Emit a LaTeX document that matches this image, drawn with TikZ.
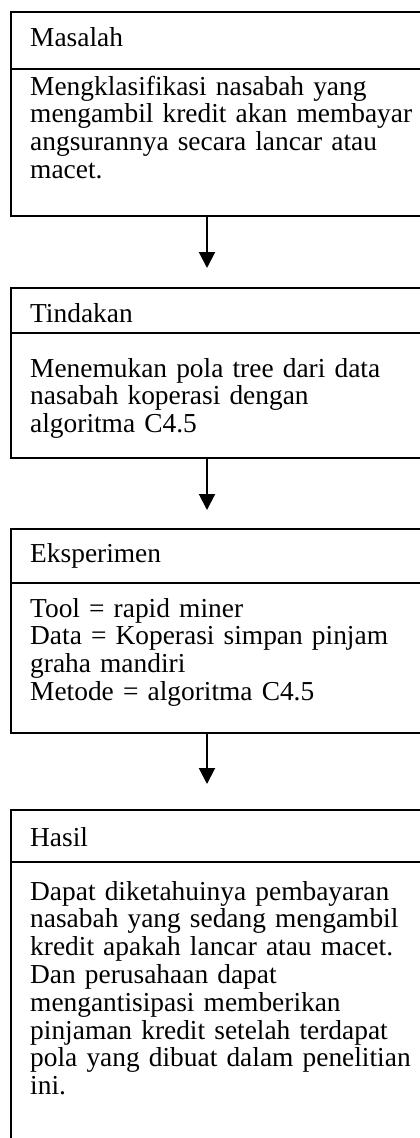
\documentclass[tikz,border=0pt]{standalone}
\usepackage{fontspec}
\setmainfont{Liberation Serif}
\usetikzlibrary{arrows.meta}
\begin{document}
\begin{tikzpicture}[x=1pt,y=-1pt,
  kotak/.style={draw, line width=1.6pt, minimum width=440pt, inner sep=0pt, anchor=north west},
  tulis/.style={anchor=base west, inner sep=0pt, text width=390pt, align=left, font=\fontsize{27.4}{27.8}\selectfont},
  panah/.style={line width=2pt, -{Triangle[length=16pt,width=16pt]}}]
\useasboundingbox (0,0) rectangle (420,1138);
\clip (0,0) rectangle (420,1138);
% Masalah
\node[kotak, minimum height=57pt] (h1) at (10,11) {};
\node[kotak, minimum height=147pt] (b1) at (10,68) {};
\node[tulis] (t1h) at (30,46) {Masalah};
\node[tulis] (t1b) at (30,95) {Mengklasifikasi nasabah yang\\ mengambil kredit akan membayar\\ angsurannya secara lancar atau\\ macet.};
% Tindakan
\node[kotak, minimum height=45pt] (h2) at (10,287) {};
\node[kotak, minimum height=125pt] (b2) at (10,332) {};
\node[tulis] (t2h) at (30,322) {Tindakan};
\node[tulis] (t2b) at (30,377) {Menemukan pola tree dari data\\ nasabah koperasi dengan\\ algoritma C4.5};
% Eksperimen
\node[kotak, minimum height=54pt] (h3) at (10,528) {};
\node[kotak, minimum height=150pt] (b3) at (10,582) {};
\node[tulis] (t3h) at (30,562) {Eksperimen};
\node[tulis] (t3b) at (30,617) {Tool = rapid miner\\ Data = Koperasi simpan pinjam\\ graha mandiri\\ Metode = algoritma C4.5};
% Hasil
\node[kotak, minimum height=52pt] (h4) at (10,809) {};
\node[kotak, minimum height=320pt] (b4) at (10,861) {};
\node[tulis] (t4h) at (30,846) {Hasil};
\node[tulis] (t4b) at (30,900) {Dapat diketahuinya pembayaran\\ nasabah yang sedang mengambil\\ kredit apakah lancar atau macet.\\ Dan perusahaan dapat\\ mengantisipasi memberikan\\ pinjaman kredit setelah terdapat\\ pola yang dibuat dalam penelitian\\ ini.};
% panah
\draw[panah, shorten >=19pt] ([xshift=197pt]b1.south west) -- ([xshift=197pt]h2.north west);
\draw[panah, shorten >=18pt] ([xshift=197pt]b2.south west) -- ([xshift=197pt]h3.north west);
\draw[panah, shorten >=25pt] ([xshift=197pt]b3.south west) -- ([xshift=197pt]h4.north west);
\end{tikzpicture}
\end{document}
